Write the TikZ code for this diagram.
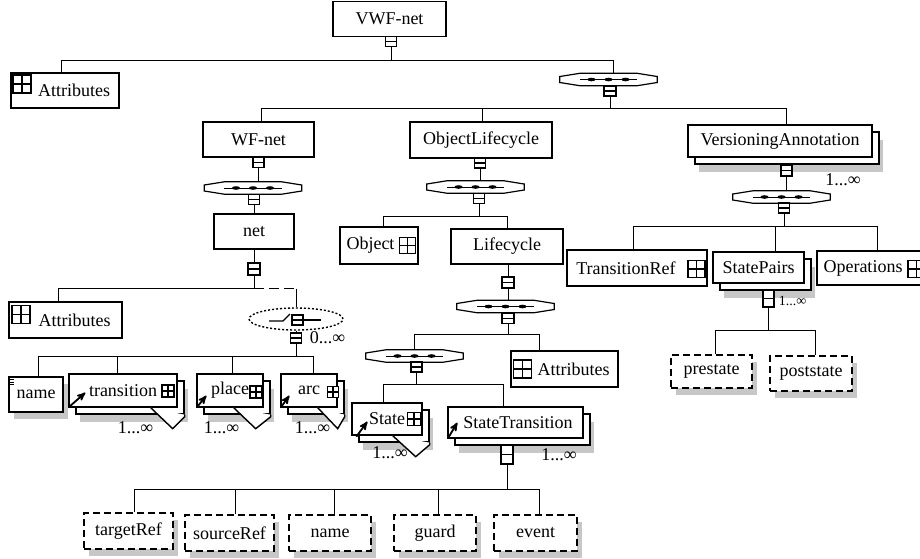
\documentclass[tikz,border=0pt]{standalone}
\usepackage{fontspec}
\setmainfont{Liberation Serif}
\usetikzlibrary{arrows,shapes.geometric,shadows}

% sequence compositor: name, position
\newcommand{\seqsym}[2]{%
  \node[seqbox] (#1) at #2 {};
  \draw[seqline] ([yshift=3pt]#1.west) -- ([xshift=20pt]#1.north west) -- ([xshift=-20pt]#1.north east)
     -- ([yshift=3pt]#1.east) -- ([yshift=-3pt]#1.east) -- ([xshift=-20pt]#1.south east)
     -- ([xshift=20pt]#1.south west) -- ([yshift=-3pt]#1.west) -- cycle;
  \draw[line width=1pt] ([xshift=20pt]#1.west) -- ([xshift=-20pt]#1.east);
  \foreach \dx in {-17,0,17} \fill ([xshift=\dx pt]#1.center) ellipse (4 and 1.8);
}
% notch under a stacked box: node, start, bottom
\newcommand{\vmark}[3]{%
  \draw[line width=1.4pt,fill=white] ([xshift=-#2pt]#1.south east) -- ([shift={(#3,21)}]#1.south east)
     -- ([shift={(7,9)}]#1.south east) -- ([shift={(7,7)}]#1.south east);
}

\begin{document}
\begin{tikzpicture}[x=1pt,y=-1pt,>=stealth',font=\fontsize{18}{21}\selectfont]
  \tikzstyle{elem}=[draw,line width=1.4pt,fill=white,inner sep=0pt]
  \tikzstyle{single}=[elem,drop shadow={shadow xshift=5pt,shadow yshift=-7pt,draw=none,fill=black!22,opacity=1}]
  \tikzstyle{opt}=[single,dash pattern=on 7pt off 4pt]
  \tikzstyle{multi}=[elem,drop shadow={shadow xshift=11pt,shadow yshift=-15pt,draw=none,fill=black!22,opacity=1},
                     copy shadow={shadow xshift=7pt,shadow yshift=-7pt,draw,fill=white}]
  \tikzstyle{conbox}=[draw,line width=1.2pt,fill=white,inner sep=0pt,minimum width=11pt,minimum height=10pt,
                      path picture={\draw[line width=1.2pt] (path picture bounding box.west) -- (path picture bounding box.east);}]
  \tikzstyle{plusicon}=[draw,line width=1.3pt,fill=white,inner sep=0pt,minimum size=16pt,
                        path picture={\draw[line width=1.3pt] (path picture bounding box.north) -- (path picture bounding box.south)
                                      (path picture bounding box.west) -- (path picture bounding box.east);}]
  \tikzstyle{seqbox}=[inner sep=0pt,minimum width=97pt,minimum height=12pt]
  \tikzstyle{seqline}=[draw,line width=1.2pt,fill=white]
  \tikzstyle{conn}=[line width=0.9pt]
  \tikzstyle{mult}=[inner sep=0pt]
  \tikzstyle{refarrow}=[->,line width=1.8pt]

  \useasboundingbox (0,0) rectangle (920,558);
  \clip (0,0) rectangle (920,558);
  \fill[white] (0,0) rectangle (920,558);

  % root
  \node[elem,minimum width=113pt,minimum height=35pt] (vwf) at (389.5,19) {VWF-net};
  \node[conbox] (vwfC) at (391,41.5) {};
  \node[elem,minimum width=108pt,minimum height=35pt] (attrA) at (65,90.5) {\hspace*{18pt}Attributes};
  \node[plusicon,minimum size=18pt] (attrAi) at (22,84) {};
  \seqsym{seqTop}{(608.5,79.5)}
  \node[conbox,minimum width=12pt] (seqTopC) at (610,91) {};

  % WF-net
  \node[elem,minimum width=111pt,minimum height=35pt] (wf) at (258.5,139.5) {WF-net};
  \node[conbox] (wfC) at (258.5,162.5) {};
  \seqsym{seqWf}{(253,188)}
  \node[conbox] (seqWfC) at (254,199.5) {};
  \node[elem,minimum width=80pt,minimum height=35pt] (net) at (254,231.5) {net};
  \node[conbox,minimum width=12pt,minimum height=12pt] (netC) at (254,269) {};
  \node[elem,minimum width=113pt,minimum height=36pt] (attrB) at (65.5,320) {\hspace*{18pt}Attributes};
  \node[plusicon,minimum size=18pt] (attrBi) at (21,314.5) {};
  \node[ellipse,draw,line width=1.4pt,dash pattern=on 2pt off 2pt,minimum width=94pt,minimum height=22pt,inner sep=0pt] (choice) at (296,319) {};
  \draw[line width=1.2pt] ([shift={(-27,2)}]choice.center) -- ([shift={(-13,2)}]choice.center) -- ([shift={(-6,-5)}]choice.center);
  \node[conbox] (choiceS) at (297.5,320) {};
  \draw[line width=1.2pt] (choiceS.east) -- ++(17,0);
  \node[conbox] (choiceC) at (296,338) {};
  \node[mult] (m0) at (327.5,338) {0...∞};

  \node[single,minimum width=54pt,minimum height=35pt] (name1) at (36,394.5) {name};
  \foreach \dy in {3,5.5,8} \draw[line width=0.6pt] ([shift={(2,\dy)}]name1.north west) -- ++(4,0);
  \node[multi,minimum width=108pt,minimum height=33pt] (trans) at (123,390.5) {transition};
  \node[plusicon,minimum size=12pt] (transi) at (168,391) {};
  \node[multi,minimum width=66pt,minimum height=33pt] (place) at (230,390.5) {place};
  \node[plusicon,minimum size=12pt] (placei) at (256,392) {};
  \node[multi,minimum width=56pt,minimum height=33pt] (arc) at (309,390.5) {arc};
  \node[plusicon,minimum size=11pt] (arci) at (333,392) {};
  \node[mult] (m1) at (135.5,428) {1...∞};
  \node[mult] (m2) at (221.5,428) {1...∞};
  \node[mult] (m3) at (312.5,428) {1...∞};

  % ObjectLifecycle
  \node[elem,minimum width=142pt,minimum height=36pt] (ol) at (481,140) {ObjectLifecycle};
  \node[conbox] (olC) at (480,163) {};
  \seqsym{seqOl}{(475.5,187)}
  \node[conbox] (seqOlC) at (479,198.5) {};
  \node[elem,minimum width=78pt,minimum height=37pt] (obj) at (379,245.5) {Object\hspace*{17pt}};
  \node[plusicon,minimum size=16pt] (obji) at (407.5,245.5) {};
  \node[elem,minimum width=112pt,minimum height=35pt] (life) at (507,246.5) {Lifecycle};
  \node[conbox,minimum width=12pt,minimum height=11pt] (lifeC) at (508,282.5) {};
  \seqsym{seqLife}{(505.5,306.5)}
  \node[conbox,minimum width=12pt] (seqLifeC) at (508,318.5) {};
  \seqsym{seqIn}{(414.5,356)}
  \node[conbox] (seqInC) at (416.5,367) {};
  \node[elem,minimum width=107pt,minimum height=36pt] (attrC) at (564.5,369) {\hspace*{18pt}Attributes};
  \node[plusicon,minimum size=18pt] (attrCi) at (522.5,369) {};
  \node[multi,minimum width=70pt,minimum height=32pt] (state) at (387,419) {State};
  \node[plusicon,minimum size=13pt] (statei) at (414,419) {};
  \node[multi,minimum width=135pt,minimum height=31pt] (sTr) at (515.5,422.5) {\hspace*{5pt}StateTransition};
  \node[conbox,minimum width=12pt,minimum height=19pt] (sTrC) at (507,454.5) {};
  \node[mult] (m4) at (390,453) {1...∞};
  \node[mult] (m5) at (559,455) {1...∞};

  \node[opt,minimum width=89pt,minimum height=36pt] (tgt) at (128.5,531) {targetRef};
  \node[opt,minimum width=89pt,minimum height=36pt] (src) at (229.5,533) {sourceRef};
  \node[opt,minimum width=82pt,minimum height=36pt] (name2) at (330,533) {name};
  \node[opt,minimum width=82pt,minimum height=36pt] (guard) at (435,533) {guard};
  \node[opt,minimum width=83pt,minimum height=36pt] (event) at (535.5,533) {event};

  % VersioningAnnotation
  \node[multi,minimum width=184pt,minimum height=32pt] (va) at (780,141) {VersioningAnnotation};
  \node[conbox,minimum height=11pt] (vaC) at (786.5,170.5) {};
  \node[mult] (m6) at (843,180) {1...∞};
  \seqsym{seqVa}{(781.5,197)}
  \node[conbox] (seqVaC) at (784,208) {};
  \node[elem,minimum width=140pt,minimum height=36pt] (tref) at (637,268) {TransitionRef\hspace*{22pt}};
  \node[plusicon,minimum size=17pt] (trefi) at (696.5,269) {};
  \node[multi,minimum width=91pt,minimum height=31pt] (sp) at (758.5,267.5) {StatePairs};
  \node[conbox,minimum height=17pt] (spC) at (768.5,298.5) {};
  \node[mult,font=\fontsize{14}{16}\selectfont] (m7) at (792.5,301) {1...∞};
  \node[elem,minimum width=113pt,minimum height=34pt] (ops) at (873.5,268) {Operations\hspace*{21pt}};
  \node[plusicon,minimum size=17pt] (opsi) at (916.5,269) {};
  \node[opt,minimum width=81pt,minimum height=33pt] (pre) at (711.5,371.5) {prestate};
  \node[opt,minimum width=82pt,minimum height=35pt] (post) at (811,373.5) {poststate};

  % notches and reference arrows
  \vmark{trans}{27}{-5}
  \vmark{place}{30}{-8}
  \vmark{arc}{20}{0}
  \vmark{state}{30}{-7}
  \draw[refarrow] ([shift={(1,-1)}]trans.south west) -- ([shift={(17,-15)}]trans.south west);
  \draw[refarrow] ([shift={(1,-1)}]place.south west) -- ([shift={(10,-12)}]place.south west);
  \draw[refarrow] ([shift={(1,-1)}]arc.south west) -- ([shift={(9,-12)}]arc.south west);
  \draw[refarrow] ([shift={(5,1)}]state.south west) -- ([shift={(16,-14)}]state.south west);
  \draw[refarrow] ([shift={(1,-1)}]sTr.south west) -- ([shift={(10,-16)}]sTr.south west);

  % connectors
  \draw[conn] (vwfC.south) -- ++(0,13) -| ([xshift=-4pt]attrA.north);
  \draw[conn] (vwfC.south) -- ++(0,13) -| ([xshift=4.5pt]seqTop.north);
  \draw[conn] (seqTopC.south) -- ++(0,12) -| ([xshift=2.5pt]wf.north);
  \draw[conn] (seqTopC.south) -- ++(0,12) -| ([xshift=1pt]ol.north);
  \draw[conn] (seqTopC.south) -- ++(0,12) -| ([xshift=6pt]va.north);

  \draw[conn] (wfC.south) -- (wfC.south |- seqWf.north);
  \draw[conn] (seqWfC.south) -- (net.north);
  \draw[conn] (net.south) -- (netC.north);
  \coordinate (netBus) at ([yshift=-13pt]netC.south);
  \draw[conn] (netC.south) -- (netBus) -| ([xshift=-7.5pt]attrB.north);
  \draw[conn,dash pattern=on 10pt off 5pt] (netBus) -- (netBus -| choice.north);
  \draw[conn] (netBus -| choice.north) -- (choice.north);
  \draw[conn] (choice.south) -- (choiceC.north);
  \draw[conn] (choiceC.south) -- ++(0,13) -| ([xshift=2pt]name1.north);
  \draw[conn] (choiceC.south) -- ++(0,13) -| ([xshift=-6pt]trans.north);
  \draw[conn] (choiceC.south) -- ++(0,13) -| ([xshift=2pt]place.north);
  \draw[conn] (choiceC.south) -- ++(0,13) -| ([xshift=4pt]arc.north);

  \draw[conn] (olC.south) -- (olC.south |- seqOl.north);
  \draw[conn] (seqOlC.south) -- ++(0,12) -| ([xshift=4pt]obj.north);
  \draw[conn] (seqOlC.south) -- ++(0,12) -| (life.north);
  \draw[conn] (life.south -| lifeC.north) -- (lifeC.north);
  \draw[conn] (lifeC.south) -- (lifeC.south |- seqLife.north);
  \draw[conn] (seqLifeC.south) -- ++(0,10) -| (seqIn.north);
  \draw[conn] (seqLifeC.south) -- ++(0,10) -| ([xshift=-25.5pt]attrC.north);
  \draw[conn] (seqInC.south) -- ++(0,12) -| ([xshift=-4pt]state.north);
  \draw[conn] (seqInC.south) -- ++(0,12) -| ([xshift=-12.5pt]sTr.north);
  \draw[conn] (sTrC.south) -- ++(0,25) -| ([xshift=5.5pt]tgt.north);
  \draw[conn] (sTrC.south) -- ++(0,25) -| ([xshift=5.5pt]src.north);
  \draw[conn] (sTrC.south) -- ++(0,25) -| ([xshift=4pt]name2.north);
  \draw[conn] (sTrC.south) -- ++(0,25) -| ([xshift=3pt]guard.north);
  \draw[conn] (sTrC.south) -- ++(0,25) -| ([xshift=3.5pt]event.north);

  \draw[conn] (vaC.south) -- (vaC.south |- seqVa.north);
  \draw[conn] (seqVaC.south) -- ++(0,13) -| ([xshift=-4pt]tref.north);
  \draw[conn] (seqVaC.south) -- ++(0,13) -| ([xshift=16.5pt]sp.north);
  \draw[conn] (seqVaC.south) -- ++(0,13) -| ([xshift=3.5pt]ops.north);
  \draw[conn] (spC.south) -- ++(0,23) -| ([xshift=3.5pt]pre.north);
  \draw[conn] (spC.south) -- ++(0,23) -| ([xshift=4pt]post.north);
\end{tikzpicture}
\end{document}
